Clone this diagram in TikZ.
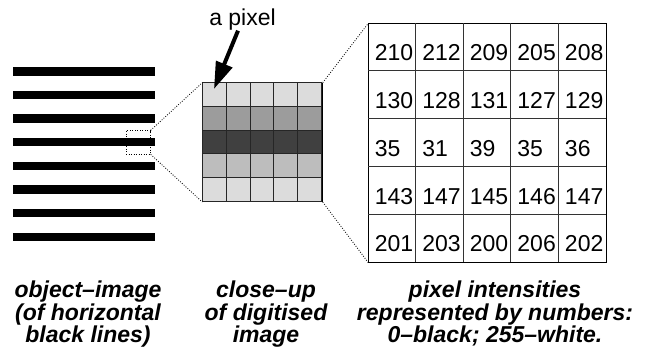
\documentclass[tikz,border=0pt]{standalone}
\usepackage{fontspec}
\setmainfont{Liberation Sans}
\usetikzlibrary{arrows.meta,calc}
\definecolor{gA}{HTML}{DCDCDC}
\definecolor{gB}{HTML}{9C9C9C}
\definecolor{gC}{HTML}{404040}
\definecolor{gD}{HTML}{BDBDBD}
\tikzset{
  stripe/.style={fill=black},
  dotline/.style={line width=0.8pt, dash pattern=on 0.9pt off 1.6pt},
  zoombox/.style={draw, dotline, minimum width=24.3pt, minimum height=23.3pt, inner sep=0pt},
  cellbox/.style={draw=black!85, line width=1pt},
  tabbox/.style={draw=black!80, line width=1pt},
  num/.style={anchor=base west, inner sep=0pt, font=\fontsize{23}{23}\selectfont},
  lbl/.style={align=center, anchor=north, inner sep=0pt, font=\fontsize{23}{22.5}\selectfont\bfseries\itshape},
  bigarrow/.style={line width=4pt, -{Triangle[length=27pt,width=17pt]}},
}
\begin{document}
\begin{tikzpicture}[x=1pt,y=-1pt]
\useasboundingbox (0,0) rectangle (647,351);
% stripes (object image)
\foreach \i in {0,...,7}
  \fill[stripe] (13.3,{67+\i*23.65}) rectangle (155.3,{75.5+\i*23.65});
% zoom box on stripe
\node[zoombox] (zr) at (138.15,142.35) {};
% close-up grid
\node[draw, line width=1pt, minimum width=119.4pt, minimum height=118.3pt, inner sep=0pt, anchor=north west] (grid) at (202.3,82.7) {};
\foreach \r/\c in {0/gA,1/gB,2/gC,3/gD,4/gA}
  \foreach \k in {0,...,4}
    \draw[cellbox, fill=\c] ({202.3+\k*23.88},{82.7+\r*23.66}) rectangle ++(23.88,23.66);
% table
\node[draw, line width=1pt, minimum width=237.7pt, minimum height=238.4pt, inner sep=0pt, anchor=north west] (tab) at (368.3,23.3) {};
\foreach \k in {1,...,4}
  \draw[tabbox] ({368.3+\k*47.54},23.3) -- ({368.3+\k*47.54},261.7);
\foreach \r in {1,...,4}
  \draw[tabbox] (368.3,{23.3+\r*47.68}) -- (606,{23.3+\r*47.68});
\foreach \r/\row in {0/{210,212,209,205,208},1/{130,128,131,127,129},2/{35,31,39,35,36},3/{143,147,145,146,147},4/{201,203,200,206,202}}
  \foreach \v [count=\k from 0] in \row
    \node[num] (n-\r-\k) at ({368.3+\k*47.54+6.3},{23.3+(\r+1)*47.68-10}) {\v};
% dotted zoom lines
\draw[dotline] (zr.north east) -- (grid.north west);
\draw[dotline] (zr.south east) -- (grid.south west);
\draw[dotline] (grid.north east) -- (tab.north west);
\draw[dotline] (grid.south east) -- (tab.south west);
% a pixel
\node[anchor=base, inner sep=0pt, font=\fontsize{23}{23}\selectfont] (apix) at (242.5,25.7) {a pixel};
\coordinate (tip) at (214,89);
\draw[bigarrow] ($(apix.south)+(-4.5,0)$) -- (tip);
% captions
\node[lbl] (c1) at (88,281) {object–image\\(of horizontal\\black lines)};
\node[lbl] (c2) at (266,281) {close–up\\of digitised\\image};
\node[lbl] (c3) at (495,281) {pixel intensities\\represented by numbers:\\0–black; 255–white.};
\end{tikzpicture}
\end{document}
